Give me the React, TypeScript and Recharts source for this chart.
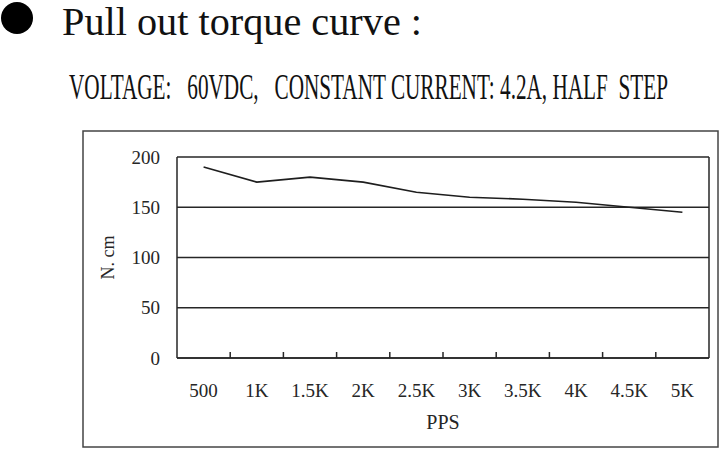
import { LineChart, Line, XAxis, YAxis, CartesianGrid, ReferenceLine } from 'recharts'

// Pull out torque, 60VDC / 4.2A half step
const speeds = ['500', '1K', '1.5K', '2K', '2.5K', '3K', '3.5K', '4K', '4.5K', '5K']
const torque = [190, 175, 180, 175, 165, 160, 158, 155, 150, 145]
const yTicks = [0, 50, 100, 150, 200]

const INK = '#262626'
const FONT = '"Liberation Serif", "DejaVu Serif", serif'

// each speed sits in the middle of its step, marks go between steps
const chartData = speeds.map((label, i) => ({ pos: i + 0.5, label, torque: torque[i] }))
const xTicks = [
  ...speeds.map((_, i) => i + 0.5),
  ...speeds.slice(1).map((_, i) => i + 1),
].sort((a, b) => a - b)

function SpeedTick(props: any) {
  const { x, y, payload } = props
  const v = payload.value as number
  if (Number.isInteger(v)) {
    return <line x1={x} x2={x} y1={y} y2={y - 6} stroke={INK} strokeWidth={1.5} />
  }
  return (
    <text x={x} y={y + 32} dy="0.35em" textAnchor="middle" fontFamily={FONT} fontSize={19} fill={INK}>
      {speeds[Math.floor(v)]}
    </text>
  )
}

// condensed heading text: squeeze horizontally, then fit to the wanted width
function Narrow({ x, y, size, width, sx, children }: any) {
  return (
    <text
      transform={`translate(${x} ${y}) scale(${sx} 1)`}
      fontFamily={FONT}
      fontSize={size}
      fill="#111"
      textLength={width / sx}
      lengthAdjust="spacingAndGlyphs"
      style={{ whiteSpace: 'pre' }}
    >
      {children}
    </text>
  )
}

function Titles() {
  return (
    <svg width={720} height={449} style={{ position: 'absolute', left: 0, top: 0, pointerEvents: 'none' }}>
      <circle cx={17} cy={18} r={16} fill="#000" />
      <Narrow x={62} y={35} size={39} width={360} sx={0.8}>
        Pull out torque curve :
      </Narrow>
      <Narrow x={69} y={99} size={35} width={599} sx={0.6}>
        {'VOLTAGE:   60VDC,   CONSTANT CURRENT: 4.2A, HALF  STEP'}
      </Narrow>
      <rect x={83} y={131} width={635} height={316} fill="none" stroke="#444" strokeWidth={1.5} />
    </svg>
  )
}

export default function App() {
  return (
    <div style={{ position: 'absolute', left: 0, top: 0, width: 720, height: 449, background: '#fff' }}>
      <div style={{ position: 'absolute', left: 0, top: 0 }}>
        <LineChart width={720} height={449} data={chartData} margin={{ top: 157, right: 11, bottom: 0, left: 0 }}>
          <CartesianGrid vertical={false} stroke={INK} strokeWidth={1.5} />
          <XAxis
            dataKey="pos"
            type="number"
            domain={[0, 10]}
            ticks={xTicks}
            interval={0}
            height={91}
            tickSize={0}
            tickMargin={0}
            tickLine={false}
            axisLine={{ stroke: INK, strokeWidth: 1.5 }}
            tick={<SpeedTick />}
            label={{
              content: (p: any) => (
                <text
                  x={p.viewBox.x + p.viewBox.width / 2}
                  y={p.viewBox.y + 64}
                  dy="0.35em"
                  textAnchor="middle"
                  fontFamily={FONT}
                  fontSize={20}
                  fill={INK}
                >
                  PPS
                </text>
              ),
            }}
          />
          <YAxis
            domain={[0, 200]}
            ticks={yTicks}
            width={177}
            tickSize={0}
            tickMargin={17}
            tickLine={false}
            axisLine={{ stroke: INK, strokeWidth: 1.5 }}
            tick={{ fontFamily: FONT, fontSize: 19, fill: INK }}
            label={{
              content: (p: any) => {
                const cx = p.viewBox.x + 108
                const cy = p.viewBox.y + p.viewBox.height / 2
                return (
                  <text
                    x={cx}
                    y={cy}
                    dy="0.35em"
                    textAnchor="middle"
                    transform={`rotate(-90 ${cx} ${cy})`}
                    fontFamily={FONT}
                    fontSize={18}
                    fill={INK}
                  >
                    N. cm
                  </text>
                )
              },
            }}
          />
          <ReferenceLine x={10} stroke={INK} strokeWidth={1.5} />
          <Line
            type="linear"
            dataKey="torque"
            stroke="#1e1e1e"
            strokeWidth={1.6}
            dot={false}
            isAnimationActive={false}
          />
        </LineChart>
      </div>
      <Titles />
    </div>
  )
}
